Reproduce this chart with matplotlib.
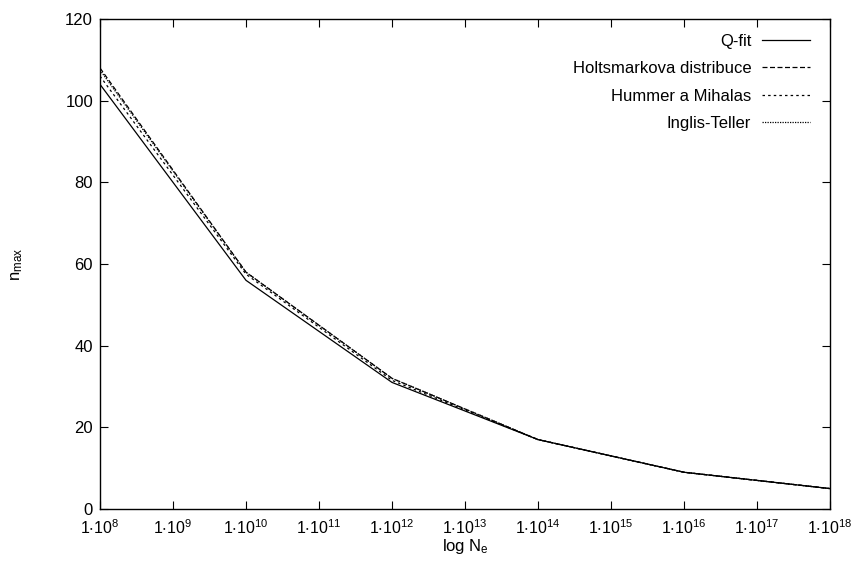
import math
import matplotlib
matplotlib.use('Agg')
import matplotlib.pyplot as plt
from matplotlib.ticker import FixedLocator, FuncFormatter, NullLocator

plt.rcParams['font.family'] = ['Liberation Sans', 'DejaVu Sans']
plt.rcParams['mathtext.fontset'] = 'custom'
plt.rcParams['mathtext.rm'] = 'Liberation Sans'
plt.rcParams['mathtext.it'] = 'Liberation Sans:italic'

# data: electron density vs. maximum principal quantum number
ne = [1e8, 1e10, 1e12, 1e14, 1e16, 1e18]
q_fit = [104, 56, 31, 17, 9, 5]
holtsmark = [108, 58, 32, 17, 9, 5]
hummer_mihalas = [106, 57.5, 31.5, 17, 9, 5]
inglis_teller = [107.5, 58, 32, 17, 9, 5]

labels = ['Q-fit', 'Holtsmarkova distribuce', 'Hummer a Mihalas', 'Inglis-Teller']
styles = ['-', (0, (4, 2)), (0, (2, 2.5)), (0, (1, 1))]

fig = plt.figure(figsize=(8.58, 5.61), dpi=100)
ax = fig.add_axes([100 / 858, 52 / 561, 730 / 858, 490 / 561])

for ys, lab, ls in zip([q_fit, holtsmark, hummer_mihalas, inglis_teller], labels, styles):
    ax.plot(ne, ys, color='black', linestyle=ls, linewidth=0.9, label=lab)

ax.set_xscale('log')
ax.set_xlim(1e8, 1e18)
ax.set_ylim(0, 120)
ax.xaxis.set_major_locator(FixedLocator([10.0 ** k for k in range(8, 19)]))
ax.xaxis.set_minor_locator(NullLocator())
ax.xaxis.set_major_formatter(FuncFormatter(
    lambda v, p: r'$\mathregular{1{\cdot}10^{%d}}$' % round(math.log10(v))))
ax.set_yticks(range(0, 121, 20))

ax.tick_params(direction='in', top=True, right=True, length=6, width=0.8,
               labelsize=12, pad=5)
ax.tick_params(axis='x', labelsize=11.5, pad=7)
for s in ax.spines.values():
    s.set_linewidth(1.0)

ax.set_xlabel(r'log $\mathregular{N_e}$', fontsize=12, labelpad=0)
ax.set_ylabel(r'$\mathregular{n_{max}}$', fontsize=12, labelpad=29)

ax.legend(loc='upper right', frameon=False, markerfirst=False, fontsize=12,
          handlelength=2.9, handletextpad=0.65, labelspacing=0.75,
          borderpad=0.4, borderaxespad=0.0,
          bbox_to_anchor=(1 - 13 / 730, 1 - 8 / 490))

fig.savefig('out.png', dpi=100)
